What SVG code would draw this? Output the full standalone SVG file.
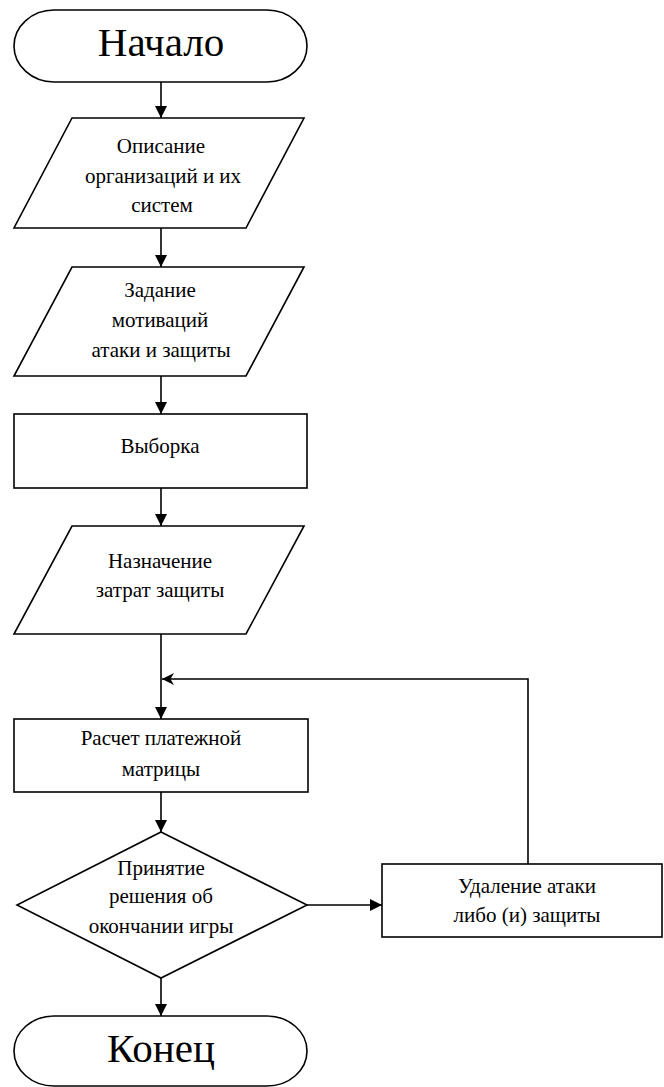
<svg xmlns="http://www.w3.org/2000/svg" width="664" height="1087" viewBox="0 0 664 1087">
<style>
.s{fill:#fff;stroke:#000;stroke-width:1.6}
.c{fill:none;stroke:#000;stroke-width:1.6}
</style>
<defs>
<marker id="a" markerWidth="12" markerHeight="12" refX="10" refY="5" orient="auto" markerUnits="userSpaceOnUse" viewBox="0 0 10 10">
<path d="M0,0 L10,5 L0,10 z" fill="#000"/>
</marker>
<marker id="n" markerWidth="12" markerHeight="12" refX="10" refY="5" orient="auto" markerUnits="userSpaceOnUse" viewBox="0 0 10 10">
<path d="M0,0 L10,5 L0,10 L3,5 z" fill="#000"/>
</marker>
</defs>
<g id="connectors">
<line class="c" x1="161" y1="82" x2="161" y2="118" marker-end="url(#a)"/>
<line class="c" x1="161" y1="228" x2="161" y2="267" marker-end="url(#a)"/>
<line class="c" x1="161" y1="376" x2="161" y2="414" marker-end="url(#a)"/>
<line class="c" x1="161" y1="488" x2="161" y2="526" marker-end="url(#a)"/>
<line class="c" x1="161" y1="634" x2="161" y2="719" marker-end="url(#a)"/>
<line class="c" x1="161" y1="792" x2="161" y2="832" marker-end="url(#a)"/>
<line class="c" x1="161" y1="978" x2="161" y2="1016" marker-end="url(#a)"/>
<line class="c" x1="307" y1="905" x2="382" y2="905" marker-end="url(#a)"/>
<polyline class="c" points="528,864 528,679 162,679" marker-end="url(#n)"/>
</g>
<g id="start">
<rect class="s" x="14" y="10" width="293" height="72" rx="40" ry="36"/>
<text x="161" y="56" font-family="Liberation Serif" font-size="41" text-anchor="middle">Начало</text>
</g>
<g id="describe">
<polygon class="s" points="72,118 304,118 246,228 14,228"/>
<text x="161" y="153" font-family="Liberation Serif" font-size="21" text-anchor="middle">Описание</text>
<text x="163" y="183" font-family="Liberation Serif" font-size="21" text-anchor="middle">организаций и их</text>
<text x="162" y="212" font-family="Liberation Serif" font-size="21" text-anchor="middle">систем</text>
</g>
<g id="motivation">
<polygon class="s" points="72,267 304,267 246,376 14,376"/>
<text x="160" y="297" font-family="Liberation Serif" font-size="21" text-anchor="middle">Задание</text>
<text x="160" y="327" font-family="Liberation Serif" font-size="21" text-anchor="middle">мотиваций</text>
<text x="161" y="357" font-family="Liberation Serif" font-size="21" text-anchor="middle">атаки и защиты</text>
</g>
<g id="sample">
<rect class="s" x="14" y="414" width="293" height="74"/>
<text x="160" y="453" font-family="Liberation Serif" font-size="21" text-anchor="middle">Выборка</text>
</g>
<g id="costs">
<polygon class="s" points="72,526 304,526 246,634 14,634"/>
<text x="160" y="568" font-family="Liberation Serif" font-size="21" text-anchor="middle">Назначение</text>
<text x="160" y="597" font-family="Liberation Serif" font-size="21" text-anchor="middle">затрат защиты</text>
</g>
<g id="matrix">
<rect class="s" x="14" y="719" width="294" height="73"/>
<text x="161" y="745" font-family="Liberation Serif" font-size="21" text-anchor="middle">Расчет платежной</text>
<text x="161" y="776" font-family="Liberation Serif" font-size="21" text-anchor="middle">матрицы</text>
</g>
<g id="decision">
<polygon class="s" points="161,832 307,905 161,978 17,905"/>
<text x="161" y="875" font-family="Liberation Serif" font-size="21" text-anchor="middle">Принятие</text>
<text x="161" y="903" font-family="Liberation Serif" font-size="21" text-anchor="middle">решения об</text>
<text x="161" y="933" font-family="Liberation Serif" font-size="21" text-anchor="middle">окончании игры</text>
</g>
<g id="remove">
<rect class="s" x="382" y="864" width="280" height="73"/>
<text x="527" y="893" font-family="Liberation Serif" font-size="21" text-anchor="middle">Удаление атаки</text>
<text x="527" y="922" font-family="Liberation Serif" font-size="21" text-anchor="middle">либо (и) защиты</text>
</g>
<g id="end">
<rect class="s" x="14" y="1016" width="293" height="70" rx="40" ry="35"/>
<text x="161" y="1062" font-family="Liberation Serif" font-size="41" text-anchor="middle">Конец</text>
</g>
</svg>
